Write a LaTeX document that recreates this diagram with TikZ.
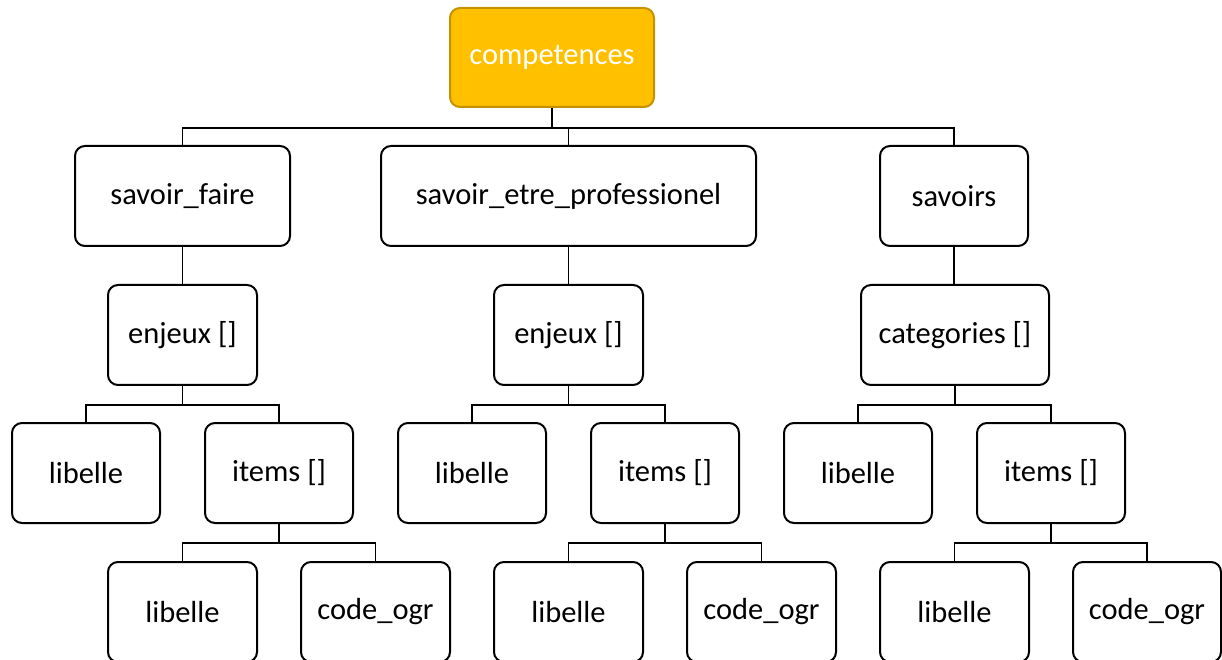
\documentclass[tikz,border=0pt]{standalone}
\usepackage{fontspec}
\setmainfont{Carlito}
\definecolor{gold}{HTML}{FFC000}
\definecolor{goldborder}{HTML}{C49100}
\begin{document}
\begin{tikzpicture}[x=1pt,y=1pt,
  box/.style={draw=black, line width=2pt, rounded corners=10pt, fill=white,
    minimum height=100pt, inner sep=0pt, font=\fontsize{30.5}{35}\selectfont, text=black},
  topbox/.style={box, draw=goldborder, fill=gold, text=white, minimum height=99pt},
  conn/.style={draw=black, line width=1.2pt}]
\useasboundingbox (0,0) rectangle (1222,659);
% level 0
\node[topbox, minimum width=204pt] (comp) at (552,601.5) {competences};
% level 1
\node[box, minimum width=215pt] (sf) at (182.5,463) {savoir\_faire};
\node[box, minimum width=375pt] (sep) at (568.5,463) {savoir\_etre\_professionel};
\node[box, minimum width=148pt] (sav) at (954,463) {savoirs};
% level 2
\node[box, minimum width=149pt] (e1) at (182.5,324) {enjeux []};
\node[box, minimum width=149pt] (e2) at (568.5,324) {enjeux []};
\node[box, minimum width=188pt] (cat) at (955,324) {categories []};
% level 3
\node[box, minimum width=148pt] (l1) at (86,186) {libelle};
\node[box, minimum width=148pt] (i1) at (279,186) {items []};
\node[box, minimum width=148pt] (l2) at (472,186) {libelle};
\node[box, minimum width=148pt] (i2) at (665,186) {items []};
\node[box, minimum width=148pt] (l3) at (858,186) {libelle};
\node[box, minimum width=148pt] (i3) at (1051,186) {items []};
% level 4
\node[box, minimum width=149pt] (ll1) at (182.5,47) {libelle};
\node[box, minimum width=149pt] (c1) at (375.5,47) {code\_ogr};
\node[box, minimum width=149pt] (ll2) at (568.5,47) {libelle};
\node[box, minimum width=149pt] (c2) at (761.5,47) {code\_ogr};
\node[box, minimum width=149pt] (ll3) at (954.5,47) {libelle};
\node[box, minimum width=148pt] (c3) at (1147,47) {code\_ogr};
% connectors
\draw[conn] (comp.south) -- ++(0,-20) coordinate (b0);
\draw[conn] (sf.north) |- (b0);
\draw[conn] (sep.north) |- (b0);
\draw[conn] (sav.north) |- (b0);
\draw[conn] (sf.south) -- (e1.north);
\draw[conn] (sep.south) -- (e2.north);
\draw[conn] (sav.south) -- (sav.south |- cat.north);
\foreach \p/\a/\b in {e1/l1/i1, e2/l2/i2, cat/l3/i3, i1/ll1/c1, i2/ll2/c2, i3/ll3/c3}{
  \draw[conn] (\p.south) -- ++(0,-19) coordinate (bb);
  \draw[conn] (\a.north) |- (bb);
  \draw[conn] (\b.north) |- (bb);
}
\end{tikzpicture}
\end{document}
